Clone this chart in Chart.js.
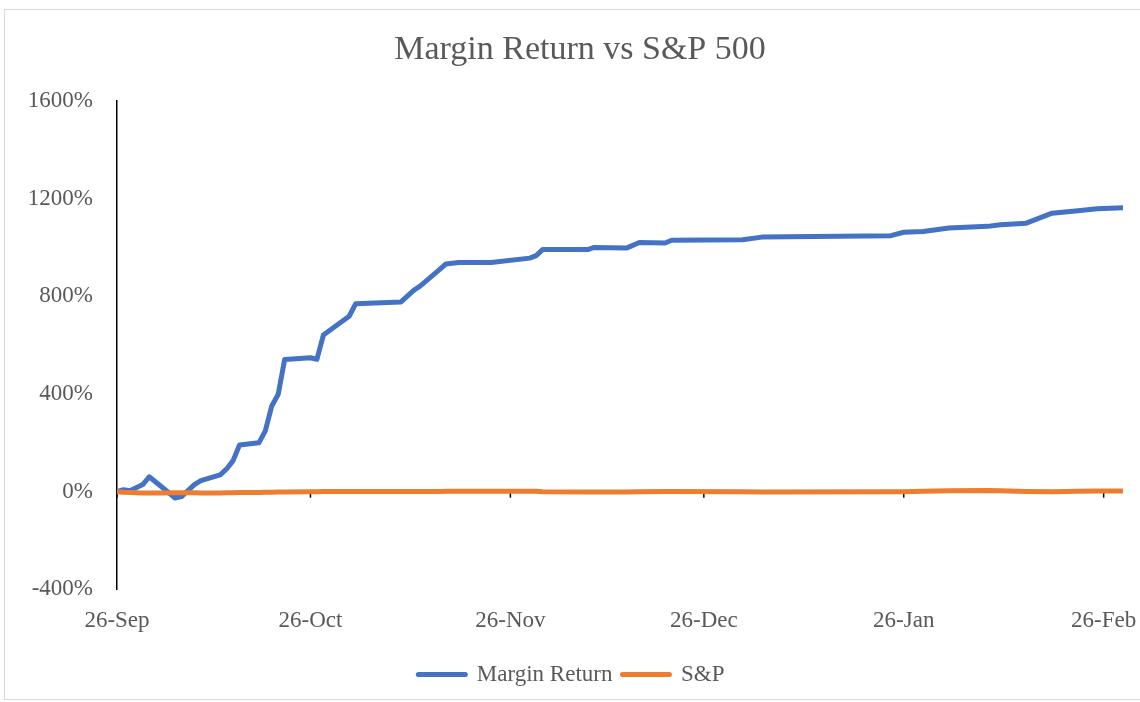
<!DOCTYPE html>
<html>
<head>
<meta charset="utf-8">
<script src="https://cdn.jsdelivr.net/npm/chart.js@4"></script>
<style>
    html, body { margin: 0; padding: 0; background: #fff; overflow: hidden; width: 1140px; height: 702px; }
    #frame { position: absolute; left: 4px; top: 9px; width: 1200px; height: 689px; border: 1px solid #d9d9d9; }
    #chart { position: absolute; left: 0; top: 0; }
</style>
</head>
<body>
<div id="frame"></div>
<canvas id="chart" width="1160" height="720"></canvas>
<script>
// days since 26-Sep
const days = [0, 1, 2, 4, 5, 7, 9, 10, 12, 13, 16, 17, 18, 19, 22, 23, 24, 25, 26, 30,
    31, 32, 36, 37, 44, 46, 47, 50, 51, 53, 58, 64, 65, 66, 73, 74, 79, 81, 85, 86,
    97, 100, 120, 122, 125, 129, 135, 137, 141, 145, 149, 152, 156];

// cumulative return, %
const marginReturn = [0, 8, 4, 29, 61, 18, -26, -20, 29, 45, 69, 93, 127, 191, 200, 249, 351, 399, 541, 548,
    542, 641, 718, 769, 776, 824, 841, 909, 932, 938, 938, 956, 966, 991, 991, 1000, 997, 1020, 1018, 1029,
    1031, 1042, 1048, 1062, 1065, 1079, 1086, 1093, 1099, 1140, 1150, 1158, 1162];

const spReturn = [0, -2, -3, -5, -5, -5, -4, -4, -4, -5, -5, -4, -4, -3, -3, -2, -2, -1, -1, 0,
    0, 1, 1, 1, 1, 1, 1, 1, 2, 2, 2, 2, 2, 0, -1, -1, -1, 0, 1, 1,
    0, -1, 0, 0, 2, 4, 5, 4, 1, 0, 2, 3, 3];

const tickDays = [0, 30, 61, 91, 122, 153];
const tickLabels = ['26-Sep', '26-Oct', '26-Nov', '26-Dec', '26-Jan', '26-Feb'];

const textColor = '#595959';
const fontFamily = '"Liberation Serif", "Times New Roman", serif';

// horizontal axis sits at 0% with its tick marks, labels stay at the bottom
const zeroAxis = {
    id: 'zeroAxis',
    beforeDatasetsDraw(chart) {
        const { ctx, chartArea, scales: { x, y } } = chart;
        const y0 = y.getPixelForValue(0);
        ctx.save();
        ctx.strokeStyle = '#000';
        ctx.lineWidth = 1;
        ctx.beginPath();
        ctx.moveTo(chartArea.left, y0);
        ctx.lineTo(chartArea.right, y0);
        ctx.stroke();
        ctx.lineWidth = 1.5;
        tickDays.forEach(d => {
            const px = x.getPixelForValue(d);
            ctx.beginPath();
            ctx.moveTo(px, y0);
            ctx.lineTo(px, y0 + 6);
            ctx.stroke();
        });
        ctx.restore();
    }
};

const ctx = document.getElementById('chart').getContext('2d');
new Chart(ctx, {
    type: 'line',
    data: {
        datasets: [{
            label: 'Margin Return',
            data: days.map((d, i) => ({ x: d, y: marginReturn[i] })),
            borderColor: '#4472C4',
            pointBorderColor: '#4472C4',
            borderWidth: 5,
            borderCapStyle: 'round',
            borderJoinStyle: 'round',
            pointRadius: 0,
            order: 1
        }, {
            label: 'S&P',
            data: days.map((d, i) => ({ x: d, y: spReturn[i] })),
            borderColor: '#ED7D31',
            pointBorderColor: '#ED7D31',
            borderWidth: 5,
            borderCapStyle: 'round',
            borderJoinStyle: 'round',
            pointRadius: 0,
            order: 0
        }]
    },
    options: {
        responsive: false,
        animation: false,
        layout: { padding: { left: 0, right: 0, top: 0, bottom: 24 } },
        plugins: {
            title: {
                display: true,
                text: 'Margin Return vs S&P 500',
                color: textColor,
                font: { family: fontFamily, size: 34, weight: 'normal' },
                padding: { top: 30, bottom: 30 }
            },
            legend: {
                position: 'bottom',
                labels: {
                    usePointStyle: true,
                    pointStyle: 'line',
                    pointStyleWidth: 47,
                    padding: 10,
                    color: textColor,
                    font: { family: fontFamily, size: 23 },
                    sort: (a, b) => a.datasetIndex - b.datasetIndex,
                    // wider gap after the first entry, like the Excel legend
                    generateLabels: (chart) => Chart.defaults.plugins.legend.labels.generateLabels(chart)
                        .map((item, i) => ({
                            ...item,
                            text: i === 0 ? item.text + '\u00a0\u00a0\u00a0' : item.text,
                            lineWidth: 5,
                            lineCap: 'round'
                        }))
                }
            },
            tooltip: { enabled: false }
        },
        scales: {
            x: {
                type: 'linear',
                min: 0,
                max: 156,
                grid: { display: false, drawTicks: false },
                border: { display: false },
                afterBuildTicks: (scale) => {
                    scale.ticks = tickDays.map(v => ({ value: v }));
                },
                ticks: {
                    autoSkip: false,
                    maxRotation: 0,
                    padding: 18,
                    color: textColor,
                    font: { family: fontFamily, size: 23 },
                    callback: (value) => tickLabels[tickDays.indexOf(value)]
                }
            },
            y: {
                min: -400,
                max: 1600,
                grid: { display: false, drawTicks: false },
                border: { display: true, color: '#000', width: 1.5 },
                afterFit: (scale) => { scale.width = 117; },
                ticks: {
                    stepSize: 400,
                    padding: 24,
                    color: textColor,
                    font: { family: fontFamily, size: 23 },
                    callback: (value) => value + '%'
                }
            },
            // empty right-hand margin so the plot stops short of the frame
            yRight: {
                position: 'right',
                grid: { display: false, drawTicks: false },
                border: { display: false },
                ticks: { display: false },
                afterFit: (scale) => { scale.width = 37; }
            }
        }
    },
    plugins: [zeroAxis]
});
</script>
</body>
</html>
